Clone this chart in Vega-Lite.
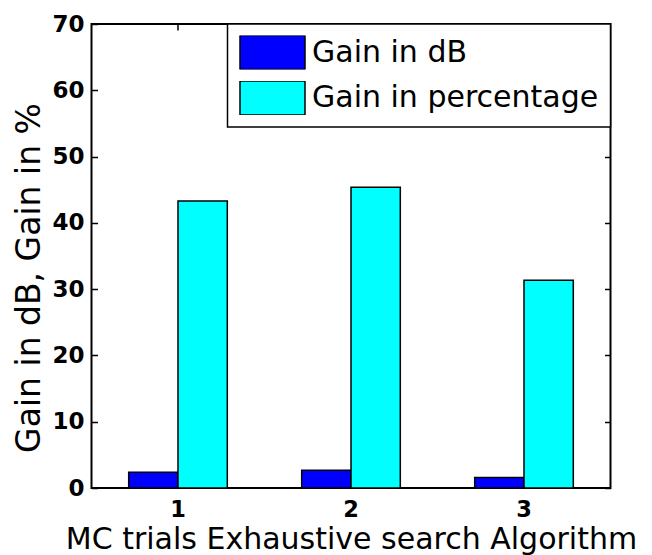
{
  "$schema": "https://vega.github.io/schema/vega-lite/v6.json",
  "autosize": "none",
  "width": 519,
  "height": 464,
  "padding": {"left": 91.5, "top": 24, "right": 41.5, "bottom": 67},
  "background": "white",
  "data": {
    "values": [
      {"trial": "1", "series": "Gain in dB", "value": 2.37},
      {"trial": "1", "series": "Gain in percentage", "value": 43.3},
      {"trial": "2", "series": "Gain in dB", "value": 2.67},
      {"trial": "2", "series": "Gain in percentage", "value": 45.36},
      {"trial": "3", "series": "Gain in dB", "value": 1.6},
      {"trial": "3", "series": "Gain in percentage", "value": 31.33}
    ]
  },
  "layer": [
    {
      "mark": {"type": "bar", "stroke": "black", "strokeWidth": 1.5},
      "encoding": {
        "x": {
          "field": "trial", "type": "nominal",
          "scale": {"paddingInner": 0.43, "paddingOuter": 0.215},
          "axis": {
            "orient": "bottom", "labelAngle": 0, "domain": false,
            "tickSize": -6, "tickColor": "black", "tickWidth": 1.5,
            "labelFont": "DejaVu Sans", "labelFontWeight": "bold", "labelFontSize": 22.5,
            "labelColor": "black", "labelBaseline": "alphabetic", "labelPadding": 34,
            "title": "MC trials Exhaustive search Algorithm",
            "titleFont": "DejaVu Sans", "titleFontWeight": "normal", "titleFontSize": 30,
            "titleColor": "black", "titleBaseline": "alphabetic", "titleY": 60.5
          }
        },
        "xOffset": {"field": "series", "type": "nominal", "scale": {"paddingInner": 0, "paddingOuter": 0}},
        "y": {
          "field": "value", "type": "quantitative",
          "scale": {"domain": [0, 70], "nice": false},
          "axis": {
            "orient": "left", "values": [0, 10, 20, 30, 40, 50, 60, 70], "grid": false, "domain": false,
            "tickSize": -6, "tickColor": "black", "tickWidth": 1.5,
            "labelFont": "DejaVu Sans", "labelFontWeight": "bold", "labelFontSize": 23,
            "labelColor": "black", "labelPadding": 13.5,
            "title": "Gain in dB, Gain in %",
            "titleFont": "DejaVu Sans", "titleFontWeight": "normal", "titleFontSize": 33,
            "titleColor": "black", "titleBaseline": "alphabetic", "titleAngle": -90,
            "titleX": -52, "titleY": 253.5
          }
        },
        "color": {
          "field": "series", "type": "nominal",
          "scale": {"domain": ["Gain in dB", "Gain in percentage"], "range": ["#0000ff", "#00ffff"]},
          "legend": {
            "title": null, "orient": "top-right", "offset": 0,
            "symbolType": "M-1,-0.523H1V0.523H-1Z", "symbolSize": 4225, "clipHeight": 34,
            "symbolStrokeColor": "black", "symbolStrokeWidth": 1.5, "symbolOpacity": 1,
            "labelFont": "DejaVu Sans", "labelFontSize": 30, "labelColor": "black",
            "labelOffset": 6, "labelLimit": 400, "rowPadding": 11.5, "padding": 11.5,
            "strokeColor": "black", "fillColor": "white",
            "encode": {"legend": {"update": {"strokeWidth": {"value": 1.5}}}}
          }
        }
      }
    },
    {
      "mark": {"type": "bar", "opacity": 0},
      "encoding": {
        "x": {
          "field": "trial", "type": "nominal",
          "axis": {"orient": "top", "labels": false, "domain": false, "title": null,
                   "tickSize": -6, "tickColor": "black", "tickWidth": 1.5}
        },
        "xOffset": {"field": "series", "type": "nominal"},
        "y": {
          "field": "value", "type": "quantitative",
          "axis": {"orient": "right", "values": [0, 10, 20, 30, 40, 50, 60, 70], "labels": false,
                   "grid": false, "domain": false, "title": null,
                   "tickSize": -6, "tickColor": "black", "tickWidth": 1.5}
        }
      }
    }
  ],
  "resolve": {"axis": {"x": "independent", "y": "independent"}},
  "config": {
    "view": {"stroke": "black", "strokeWidth": 2}
  }
}
